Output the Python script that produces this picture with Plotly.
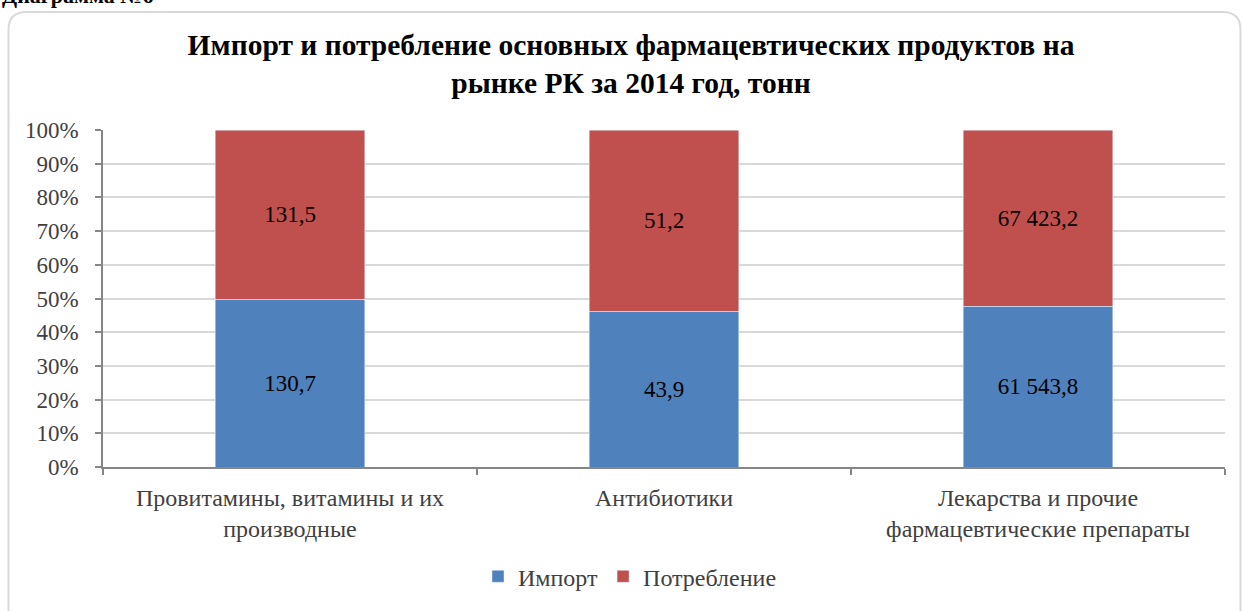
import plotly.graph_objects as go

categories = ["Провитамины, витамины и их<br>производные", "Антибиотики",
              "Лекарства и прочие<br>фармацевтические препараты"]
import_vals = [130.7, 43.9, 61543.8]
consumption_vals = [131.5, 51.2, 67423.2]
series_names = ["Импорт", "Потребление"]
y_ticks = [0, 10, 20, 30, 40, 50, 60, 70, 80, 90, 100]
y_tick_labels = [f"{v}%" for v in y_ticks]


def fmt(v):
    s = f"{v:,.1f}"
    return s.replace(",", " ").replace(".", ",")


W, H = 1243, 611
L, R, T, B = 103, 18, 130, 140
pw, ph = W - L - R, H - T - B


def px_x(x):
    return (x - L) / pw


def px_y(y):
    return (H - B - y) / ph


font_family = "Liberation Serif, Times New Roman, serif"

fig = go.Figure()
fig.add_trace(go.Bar(x=categories, y=import_vals, name=series_names[0],
                     marker_color="#4f81bd", text=[fmt(v) for v in import_vals],
                     textposition="inside", insidetextanchor="middle",
                     textfont=dict(size=23, color="#000000", family=font_family)))
fig.add_trace(go.Bar(x=categories, y=consumption_vals, name=series_names[1],
                     marker_color="#c0504d", text=[fmt(v) for v in consumption_vals],
                     textposition="inside", insidetextanchor="middle",
                     textfont=dict(size=23, color="#000000", family=font_family)))

# rounded chart border
x0, x1 = 8.5, 1240.5
y0, y1 = 10.5, 640
r = 18
path = (f"M {px_x(x0)},{px_y(y1)} L {px_x(x0)},{px_y(y0 + r)} "
        f"Q {px_x(x0)},{px_y(y0)} {px_x(x0 + r)},{px_y(y0)} "
        f"L {px_x(x1 - r)},{px_y(y0)} Q {px_x(x1)},{px_y(y0)} {px_x(x1)},{px_y(y0 + r)} "
        f"L {px_x(x1)},{px_y(y1)}")

fig.update_layout(
    width=W, height=H,
    margin=dict(l=L, r=R, t=T, b=B),
    barmode="stack", barnorm="percent", bargap=0.6,
    paper_bgcolor="white", plot_bgcolor="white",
    font=dict(family=font_family, size=23, color="#404040"),
    title=dict(text="Импорт и потребление основных фармацевтических продуктов на<br>рынке РК за 2014 год, тонн",
               x=631 / W, xanchor="center", y=1 - 55 / H, yanchor="middle",
               font=dict(size=29.5, color="#000000", family=font_family, weight="bold")),
    showlegend=True,
    legend=dict(orientation="h", x=px_x(630), xanchor="center", y=px_y(582), yanchor="middle",
                font=dict(size=24, color="#404040", family=font_family), traceorder="normal",
                itemwidth=30, tracegroupgap=0),
    xaxis=dict(showline=True, linecolor="#868686", linewidth=1.5, ticks="outside",
               tickson="boundaries", ticklen=6, tickcolor="#868686", tickwidth=1.5,
               showgrid=False, tickfont=dict(size=24, family=font_family), ticklabelstandoff=8),
    yaxis=dict(range=[0, 100], tickvals=y_ticks, ticktext=y_tick_labels, showline=True,
               linecolor="#868686", linewidth=1.5, ticks="outside", ticklen=6,
               tickcolor="#868686", tickwidth=1.5, gridcolor="#d9d9d9", gridwidth=1.5,
               zeroline=False, tickfont=dict(size=23, family=font_family), ticklabelstandoff=12),
    shapes=[dict(type="path", path=path, xref="paper", yref="paper",
                 line=dict(color="#d9d9d9", width=2), layer="below")],
    annotations=[dict(text="<b>Диаграмма №6</b>", xref="paper", yref="paper",
                      x=px_x(0), xanchor="left", y=px_y(9), yanchor="bottom",
                      showarrow=False, font=dict(size=22, color="#000000", family=font_family))],
)

fig.write_html("out.html", config={"displayModeBar": False},
               post_script="document.body.style.margin='0';")
